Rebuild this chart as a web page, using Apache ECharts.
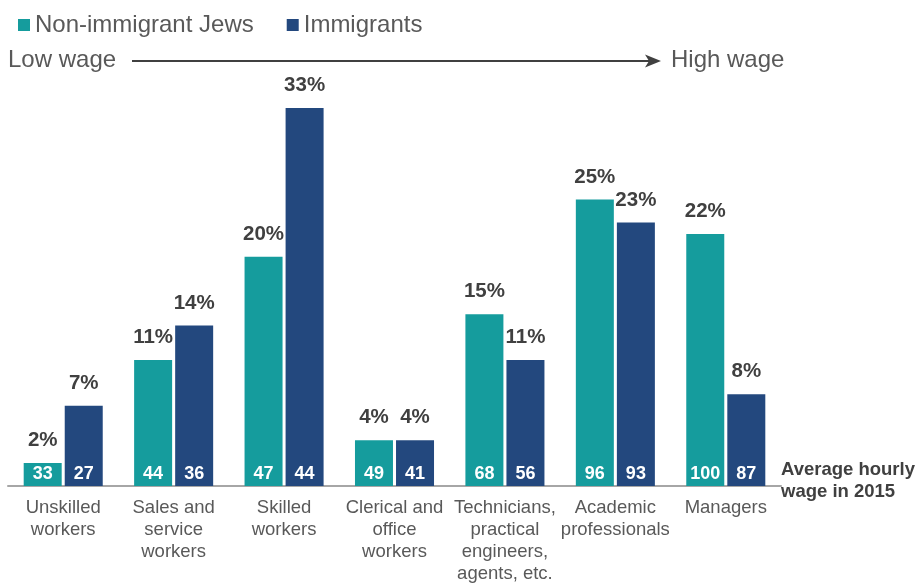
<!DOCTYPE html>
<html>
<head>
<meta charset="utf-8">
<script src="https://cdn.jsdelivr.net/npm/echarts@6/dist/echarts.min.js"></script>
<style>
  html, body { margin: 0; padding: 0; background: #ffffff; overflow: hidden; }
  #chart { width: 917px; height: 585px; }
</style>
</head>
<body>
<div id="chart"></div>
<script>
// Occupation groups, ordered from low to high wage
const categories = [
  'Unskilled\nworkers',
  'Sales and\nservice\nworkers',
  'Skilled\nworkers',
  'Clerical and\noffice\nworkers',
  'Technicians,\npractical\nengineers,\nagents, etc.',
  'Academic\nprofessionals',
  'Managers'
];

// Share of employed in each occupation (%)
const nonImmigrantShare = [2, 11, 20, 4, 15, 25, 22];
const immigrantShare = [7, 14, 33, 4, 11, 23, 8];

// Average hourly wage in 2015 (index)
const nonImmigrantWage = [33, 44, 47, 49, 68, 96, 100];
const immigrantWage = [27, 36, 44, 41, 56, 93, 87];

const seriesNames = ['Non-immigrant Jews', 'Immigrants'];
const TEAL = '#159C9D';
const NAVY = '#23487E';
const TEXT_GRAY = '#595959';
const TEXT_DARK = '#404040';
const FONT = 'Arial, Liberation Sans, sans-serif';

const chart = echarts.init(document.getElementById('chart'));

// Each group is a bar showing the share, with the wage written inside at its base,
// plus a zero-height bar stacked on top that carries the percentage label.
function groupSeries(name, color, stackId, shares, wages) {
  return [
    {
      name: name,
      type: 'bar',
      stack: stackId,
      data: shares,
      barWidth: 38,
      barGap: '8%',
      itemStyle: { color: color },
      label: {
        show: true,
        position: 'insideBottom',
        distance: 3,
        color: '#ffffff',
        fontFamily: FONT,
        fontWeight: 'bold',
        fontSize: 18,
        formatter: p => String(wages[p.dataIndex])
      },
      emphasis: { disabled: true }
    },
    {
      name: name,
      type: 'bar',
      stack: stackId,
      data: shares.map(() => 0),
      barWidth: 38,
      barGap: '8%',
      itemStyle: { color: color },
      label: {
        show: true,
        position: 'top',
        distance: 12,
        color: TEXT_DARK,
        fontFamily: FONT,
        fontWeight: 'bold',
        fontSize: 20.5,
        formatter: p => shares[p.dataIndex] + '%'
      },
      emphasis: { disabled: true }
    }
  ];
}

const option = {
  animation: false,
  backgroundColor: '#ffffff',
  textStyle: { fontFamily: FONT },
  legend: {
    data: seriesNames,
    left: 13,
    top: 8,
    itemWidth: 12,
    itemHeight: 12,
    itemGap: 33,
    icon: 'rect',
    textStyle: {
      color: TEXT_GRAY,
      fontSize: 24,
      fontFamily: FONT
    },
    selectedMode: false
  },
  grid: {
    left: 8,
    right: 136,
    top: 85,
    bottom: 96,
    containLabel: false
  },
  xAxis: {
    type: 'category',
    data: categories,
    axisLine: { show: true, lineStyle: { color: '#A6A6A6', width: 2 } },
    axisTick: { show: false },
    axisLabel: {
      color: TEXT_GRAY,
      fontSize: 18.5,
      lineHeight: 22,
      margin: 11,
      interval: 0,
      align: 'center',
      verticalAlign: 'top'
    }
  },
  yAxis: {
    type: 'value',
    min: 0,
    max: 35,
    show: false,
    splitLine: { show: false }
  },
  series: [
    ...groupSeries(seriesNames[0], TEAL, 'nonImmigrant', nonImmigrantShare, nonImmigrantWage),
    ...groupSeries(seriesNames[1], NAVY, 'immigrant', immigrantShare, immigrantWage)
  ],
  graphic: [
    {
      type: 'text',
      left: 8,
      top: 48,
      style: {
        text: 'Low wage',
        fill: TEXT_GRAY,
        font: '24px ' + FONT
      }
    },
    {
      type: 'line',
      shape: { x1: 132, y1: 61, x2: 650, y2: 61 },
      style: { stroke: '#404040', lineWidth: 2 }
    },
    {
      type: 'polygon',
      shape: { points: [[645, 54.5], [661, 61], [645, 67.5], [649, 61]] },
      style: { fill: '#404040' }
    },
    {
      type: 'text',
      left: 671,
      top: 48,
      style: {
        text: 'High wage',
        fill: TEXT_GRAY,
        font: '24px ' + FONT
      }
    },
    {
      type: 'text',
      left: 781,
      top: 459,
      style: {
        text: 'Average hourly\nwage in 2015',
        fill: TEXT_DARK,
        font: 'bold 18.5px ' + FONT,
        lineHeight: 22
      }
    }
  ]
};

chart.setOption(option);
</script>
</body>
</html>
